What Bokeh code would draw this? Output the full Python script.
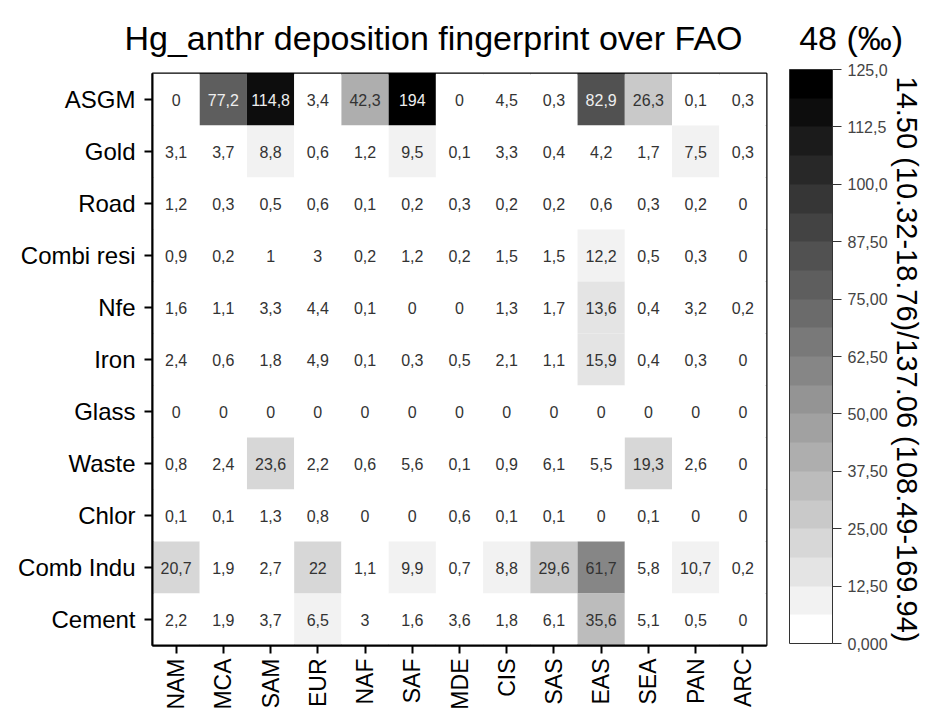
import math
from bokeh.plotting import figure
from bokeh.models import ColumnDataSource, LinearColorMapper, ColorBar, FixedTicker, Title
from bokeh.core.properties import value
from bokeh.embed import file_html
from bokeh.resources import INLINE

regions = ["NAM", "MCA", "SAM", "EUR", "NAF", "SAF", "MDE", "CIS", "SAS", "EAS", "SEA", "PAN", "ARC"]
sectors = ["ASGM", "Gold", "Road", "Combi resi", "Nfe", "Iron", "Glass", "Waste", "Chlor", "Comb Indu", "Cement"]

asgm = [0, 77.2, 114.8, 3.4, 42.3, 194, 0, 4.5, 0.3, 82.9, 26.3, 0.1, 0.3]
gold = [3.1, 3.7, 8.8, 0.6, 1.2, 9.5, 0.1, 3.3, 0.4, 4.2, 1.7, 7.5, 0.3]
road = [1.2, 0.3, 0.5, 0.6, 0.1, 0.2, 0.3, 0.2, 0.2, 0.6, 0.3, 0.2, 0]
combi_resi = [0.9, 0.2, 1, 3, 0.2, 1.2, 0.2, 1.5, 1.5, 12.2, 0.5, 0.3, 0]
nfe = [1.6, 1.1, 3.3, 4.4, 0.1, 0, 0, 1.3, 1.7, 13.6, 0.4, 3.2, 0.2]
iron = [2.4, 0.6, 1.8, 4.9, 0.1, 0.3, 0.5, 2.1, 1.1, 15.9, 0.4, 0.3, 0]
glass = [0, 0, 0, 0, 0, 0, 0, 0, 0, 0, 0, 0, 0]
waste = [0.8, 2.4, 23.6, 2.2, 0.6, 5.6, 0.1, 0.9, 6.1, 5.5, 19.3, 2.6, 0]
chlor = [0.1, 0.1, 1.3, 0.8, 0, 0, 0.6, 0.1, 0.1, 0, 0.1, 0, 0]
comb_indu = [20.7, 1.9, 2.7, 22, 1.1, 9.9, 0.7, 8.8, 29.6, 61.7, 5.8, 10.7, 0.2]
cement = [2.2, 1.9, 3.7, 6.5, 3, 1.6, 3.6, 1.8, 6.1, 35.6, 5.1, 0.5, 0]

rows = [asgm, gold, road, combi_resi, nfe, iron, glass, waste, chlor, comb_indu, cement]

cb_ticks = [0, 12.5, 25, 37.5, 50, 62.5, 75, 87.5, 100, 112.5, 125]
cb_tick_labels = ["0,000", "12,50", "25,00", "37,50", "50,00", "62,50", "75,00", "87,50", "100,0", "112,5", "125,0"]

title_text = "Hg_anthr deposition fingerprint over FAO\u00a0\u00a0\u00a0\u00a0\u00a0\u00a048 (\u2030)"
side_text = "14.50 (10.32-18.76)/137.06 (108.49-169.94)"

FONT = "Liberation Sans"


def fmt(v):
    if float(v) == int(v):
        return str(int(v))
    return f"{v:.1f}".replace(".", ",")


xs, ys, vals, labels, tcols = [], [], [], [], []
for s, row in zip(sectors, rows):
    for r, v in zip(regions, row):
        xs.append(r)
        ys.append(s)
        vals.append(v)
        labels.append(fmt(v))
        tcols.append("#eeeeee" if v >= 70 else "#333333")

src = ColumnDataSource(dict(x=xs, y=ys, v=vals, label=labels, tc=tcols))

n = 20
palette = []
for i in range(n):
    g = int(round(255 * (1 - i / (n - 1))))
    palette.append("#%02x%02x%02x" % (g, g, g))

mapper = LinearColorMapper(palette=palette, low=0, high=125, high_color="#000000")

p = figure(
    width=927, height=715,
    x_range=regions, y_range=list(reversed(sectors)),
    output_backend="svg", toolbar_location=None, title=None,
    min_border_left=152, min_border_right=161, min_border_top=72, min_border_bottom=70,
)
p.rect(x="x", y="y", width=1, height=1, source=src,
       fill_color={"field": "v", "transform": mapper}, line_color=None)
p.text(x="x", y="y", text="label", source=src, text_align="center", text_baseline="middle",
       text_font=value(FONT), text_font_size="16px", text_color="tc")

p.grid.visible = False
p.outline_line_color = "black"
p.outline_line_width = 2
p.background_fill_color = "white"
p.border_fill_color = "white"

for ax in (p.xaxis[0], p.yaxis[0]):
    ax.axis_line_color = "black"
    ax.axis_line_width = 2
    ax.major_tick_line_color = "black"
    ax.major_tick_line_width = 2
    ax.major_tick_out = 8
    ax.major_tick_in = 0
    ax.minor_tick_line_color = None
    ax.major_label_text_font = FONT
    ax.major_label_text_font_size = "23px"
    ax.major_label_text_color = "black"
    ax.major_label_standoff = 5

p.yaxis.major_label_text_font_size = "24px"
p.yaxis.major_label_standoff = 9
p.xaxis.major_label_orientation = math.pi / 2
p.x_range.range_padding = 0
p.y_range.range_padding = 0

cb = ColorBar(
    color_mapper=mapper, ticker=FixedTicker(ticks=cb_ticks),
    major_label_overrides={t: l for t, l in zip(cb_ticks, cb_tick_labels)},
    width=43, height=574, location=(23, 2), margin=0, padding=0,
    major_tick_out=9, major_tick_in=0, major_tick_line_color="#333333",
    minor_tick_line_color=None,
    major_label_text_font=FONT, major_label_text_font_size="16px",
    major_label_text_color="#444444", label_standoff=6,
    bar_line_color="#333333", bar_line_width=1,
    background_fill_color=None, border_line_color=None,
)
p.add_layout(cb, "right")

st = Title(text=side_text, align="center", text_font=FONT, text_font_size="29px",
           text_font_style="normal", text_color="black", standoff=0)
p.add_layout(st, "right")

tt = Title(text=title_text, align="left", offset=-28, text_font=FONT, text_font_size="34px",
           text_font_style="normal", text_color="black", standoff=33)
p.add_layout(tt, "above")

open("out.html", "w").write(file_html(p, INLINE))
